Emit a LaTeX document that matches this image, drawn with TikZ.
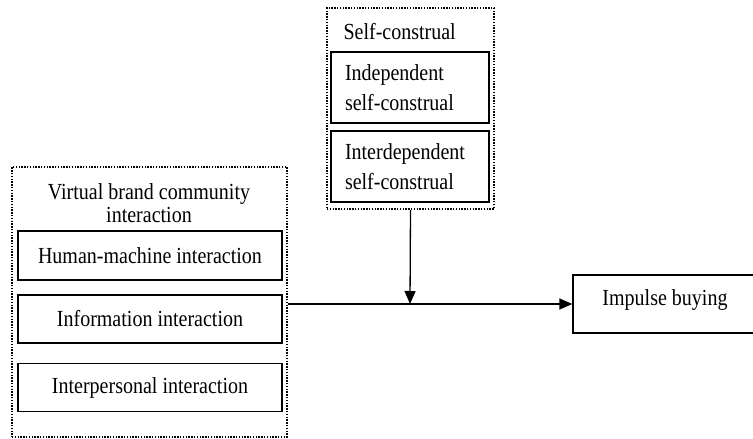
\documentclass[tikz,border=0pt]{standalone}
\usepackage{fontspec}
\setmainfont[FakeStretch=0.87]{Liberation Serif}
\usetikzlibrary{arrows.meta}
\begin{document}
\begin{tikzpicture}[x=1pt,y=-1pt,
  every node/.style={font=\fontsize{23}{30}\selectfont},
  box/.style={draw,line width=1.3pt,inner sep=0pt,align=center},
  dotbox/.style={draw,line width=1.6pt,dash pattern=on 1.4pt off 1.4pt,inner sep=0pt},
  conn/.style={line width=1.3pt,-{Triangle[length=13pt,width=11pt]}}]
\useasboundingbox (0,0) rectangle (753,439);
% self-construal group
\node[dotbox,minimum width=167pt,minimum height=201pt] (sc) at (410.5,108.5) {};
\node[anchor=west] (sct) at (340,32) {Self-construal};
\node[box,minimum width=158pt,minimum height=71pt,text width=130pt,align=left] (ind) at (410,87.5) {Independent\\self-construal};
\node[box,minimum width=158pt,minimum height=71pt,text width=130pt,align=left] (intd) at (410,166.5) {Interdependent\\self-construal};
% virtual brand community group
\node[dotbox,minimum width=275pt,minimum height=270pt] (vbc) at (149.5,302) {};
\node[align=center,font=\fontsize{23}{23}\selectfont] (vbct) at (149,203) {Virtual brand community\\interaction};
\node[box,minimum width=264pt,minimum height=49pt] (hm) at (150,255.5) {Human-machine interaction};
\node[box,minimum width=264pt,minimum height=48pt] (info) at (150,319) {Information interaction};
\node[box,minimum width=264pt,minimum height=48pt] (ip) at (150,387.5) {Interpersonal interaction};
% outcome
\node[box,minimum width=188pt,minimum height=58pt] (ib) at (667,304) {};
\node (ibt) at (665,300) {Impulse buying};
% connectors
\coordinate (mid) at (410,304);
\draw[conn] (vbc.east |- mid) -- (ib.west);
\draw[conn] (sc.south) -- (mid);
\end{tikzpicture}
\end{document}
